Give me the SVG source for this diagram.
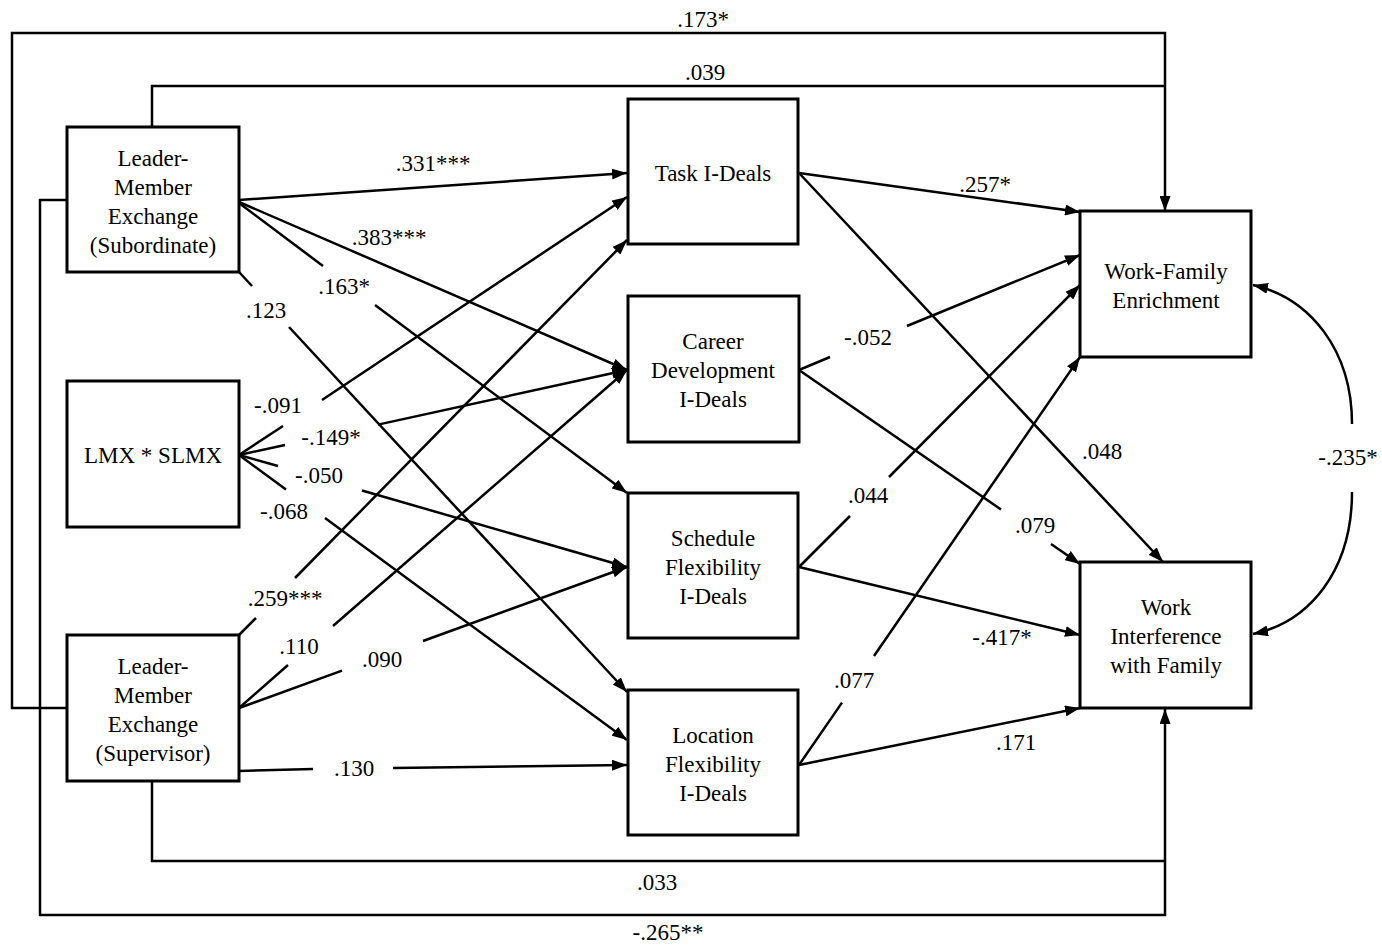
<svg xmlns="http://www.w3.org/2000/svg" width="1382" height="945" viewBox="0 0 1382 945">
<defs>
<marker id="ah" viewBox="0 0 15 11" refX="15" refY="5.5" markerWidth="15" markerHeight="11" markerUnits="userSpaceOnUse" orient="auto"><path d="M0,0 L15,5.5 L0,11 Z" fill="#000"/></marker>
<style>
.box{fill:#fff;stroke:#000;stroke-width:3}
.ln{fill:none;stroke:#000;stroke-width:2.5}
.ar{marker-end:url(#ah)}
text{font-family:"Liberation Serif","Times New Roman",serif;font-size:23px;fill:#000;text-anchor:middle}
</style>
</defs>
<rect width="1382" height="945" fill="#fff"/>
<g id="connectors">
<path class="ln ar" d="M239,200 L627,173"/>
<path class="ln ar" d="M239,202 L627,370"/>
<path class="ln" d="M239,203 L323,266"/><path class="ln ar" d="M375,305 L627,493"/>
<path class="ln" d="M239,272 L252,286"/><path class="ln ar" d="M289,327 L627,692"/>
<path class="ln" d="M239,455 L283,426"/><path class="ln ar" d="M322,400 L627,197"/>
<path class="ln" d="M239,455 L285,445"/><path class="ln ar" d="M378,424.6 L627,370"/>
<path class="ln" d="M239,455 L278,466"/><path class="ln ar" d="M362,490.5 L627,567"/>
<path class="ln" d="M239,455 L286,489.5"/><path class="ln ar" d="M325,518 L627,740"/>
<path class="ln" d="M239,635 L256,618"/><path class="ln ar" d="M295,578 L627,240"/>
<path class="ln" d="M239,708 L288,665"/><path class="ln ar" d="M333,626 L627,370"/>
<path class="ln" d="M239,708 L342,670.6"/><path class="ln ar" d="M423,641 L627,567"/>
<path class="ln" d="M239,771 L313,769"/><path class="ln ar" d="M393,768 L627,765"/>
<path class="ln ar" d="M799,173 L1080,212"/>
<path class="ln ar" d="M799,173 L1163,562"/>
<path class="ln" d="M799,370 L830,357"/><path class="ln ar" d="M907,326 L1080,255"/>
<path class="ln" d="M799,370 L1001,509.5"/><path class="ln ar" d="M1051,544 L1080,564"/>
<path class="ln" d="M799,567 L850,516"/><path class="ln ar" d="M889,477 L1080,285"/>
<path class="ln ar" d="M799,567 L1080,635"/>
<path class="ln" d="M799,765 L842,702.6"/><path class="ln ar" d="M874,656 L1080,357"/>
<path class="ln ar" d="M799,765 L1080,708"/>
<path class="ln ar" d="M67,708 H12 V33 H1165 V211"/>
<path class="ln" d="M152,127 V86 H1165"/>
<path class="ln ar" d="M67,200 H40 V915 H1165 V709"/>
<path class="ln" d="M152,781 V861 H1165"/>
<path class="ln ar" d="M1352,424 C1352,350 1310,298 1253,285"/>
<path class="ln ar" d="M1352,492 C1352,570 1310,622 1253,634"/>
<text x="703" y="27">.173*</text>
<text x="705" y="80">.039</text>
<text x="433" y="171">.331***</text>
<text x="389" y="245">.383***</text>
<text x="344" y="294">.163*</text>
<text x="266" y="318">.123</text>
<text x="278" y="413">-.091</text>
<text x="331" y="445">-.149*</text>
<text x="319" y="483">-.050</text>
<text x="284" y="519">-.068</text>
<text x="285" y="606">.259***</text>
<text x="299" y="654">.110</text>
<text x="382" y="667">.090</text>
<text x="354" y="776">.130</text>
<text x="985" y="192">.257*</text>
<text x="868" y="345">-.052</text>
<text x="1102" y="459">.048</text>
<text x="868" y="503">.044</text>
<text x="1035" y="533">.079</text>
<text x="1002" y="645">-.417*</text>
<text x="854" y="688">.077</text>
<text x="1016" y="750">.171</text>
<text x="1348" y="465">-.235*</text>
<text x="657" y="890">.033</text>
<text x="668" y="940">-.265**</text>
</g>
<g id="lmx-sub"><rect class="box" x="67" y="127" width="172" height="145"/><text x="153" y="166">Leader-</text><text x="153" y="195">Member</text><text x="153" y="224">Exchange</text><text x="153" y="253">(Subordinate)</text></g>
<g id="lmx-slmx"><rect class="box" x="67" y="381" width="172" height="146"/><text x="153" y="463">LMX * SLMX</text></g>
<g id="lmx-sup"><rect class="box" x="67" y="635" width="172" height="146"/><text x="153" y="674">Leader-</text><text x="153" y="703">Member</text><text x="153" y="732">Exchange</text><text x="153" y="761">(Supervisor)</text></g>
<g id="task"><rect class="box" x="628" y="99" width="170" height="145"/><text x="713" y="181">Task I-Deals</text></g>
<g id="career"><rect class="box" x="628" y="296" width="171" height="146"/><text x="713" y="349">Career</text><text x="713" y="378">Development</text><text x="713" y="407">I-Deals</text></g>
<g id="schedule"><rect class="box" x="628" y="493" width="170" height="145"/><text x="713" y="546">Schedule</text><text x="713" y="575">Flexibility</text><text x="713" y="604">I-Deals</text></g>
<g id="location"><rect class="box" x="628" y="690" width="170" height="145"/><text x="713" y="743">Location</text><text x="713" y="772">Flexibility</text><text x="713" y="801">I-Deals</text></g>
<g id="wfe"><rect class="box" x="1080" y="211" width="171" height="146"/><text x="1166" y="279">Work-Family</text><text x="1166" y="308">Enrichment</text></g>
<g id="wif"><rect class="box" x="1080" y="562" width="171" height="146"/><text x="1166" y="615">Work</text><text x="1166" y="644">Interference</text><text x="1166" y="673">with Family</text></g>
</svg>
